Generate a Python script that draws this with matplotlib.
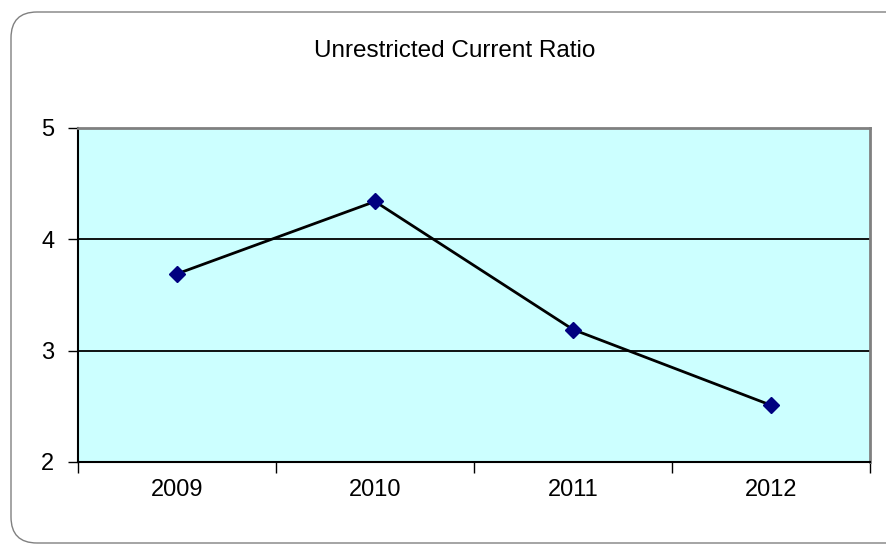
import matplotlib
matplotlib.use("Agg")
import matplotlib.pyplot as plt
from matplotlib.patches import FancyBboxPatch

years = ["2009", "2010", "2011", "2012"]
ratio = [3.69, 4.34, 3.19, 2.51]
yticks = [2, 3, 4, 5]
title = "Unrestricted Current Ratio"

plt.rcParams['font.family'] = ['Liberation Sans', 'DejaVu Sans']

W, H = 886, 544
fig = plt.figure(figsize=(W / 100, H / 100), dpi=100)

# outer rounded border (display pixel coordinates)
border = FancyBboxPatch((11, H - 543), W + 40, 543 - 12,
                        boxstyle="round,pad=0,rounding_size=26",
                        transform=None, fill=False,
                        edgecolor="#808080", linewidth=1.0)
fig.patches.append(border)

ax = fig.add_axes([78 / W, 1 - 462 / H, (870 - 78) / W, (462 - 128) / H])
ax.set_facecolor("#CCFFFF")

x = list(range(len(years)))
ax.plot(x, ratio, color="black", linewidth=2, marker="D", markersize=8,
        markerfacecolor="#000080", markeredgecolor="#000080", zorder=3)

ax.set_xlim(-0.5, len(years) - 0.5)
ax.set_ylim(yticks[0], yticks[-1])
ax.set_yticks(yticks)
ax.set_yticklabels([str(t) for t in yticks])

ax.set_xticks([i - 0.5 for i in range(len(years) + 1)])
ax.set_xticklabels([])
ax.set_xticks(x, minor=True)
ax.set_xticklabels(years, minor=True)
ax.tick_params(axis="x", which="minor", length=0, pad=12, labelsize=17)
ax.tick_params(axis="x", which="major", length=8, width=1, color="black")
ax.tick_params(axis="y", length=7, width=1, pad=10, labelsize=17)

ax.yaxis.grid(True, color="black", linewidth=1.3)
ax.set_axisbelow(True)

for side in ("left", "bottom"):
    ax.spines[side].set_color("black")
    ax.spines[side].set_linewidth(1.5)
for side in ("top", "right"):
    ax.spines[side].set_color("#808080")
    ax.spines[side].set_linewidth(2)

fig.text(455 / W, 1 - 51 / H, title, ha="center", va="center", fontsize=17.5)

fig.savefig("out.png", dpi=100)
